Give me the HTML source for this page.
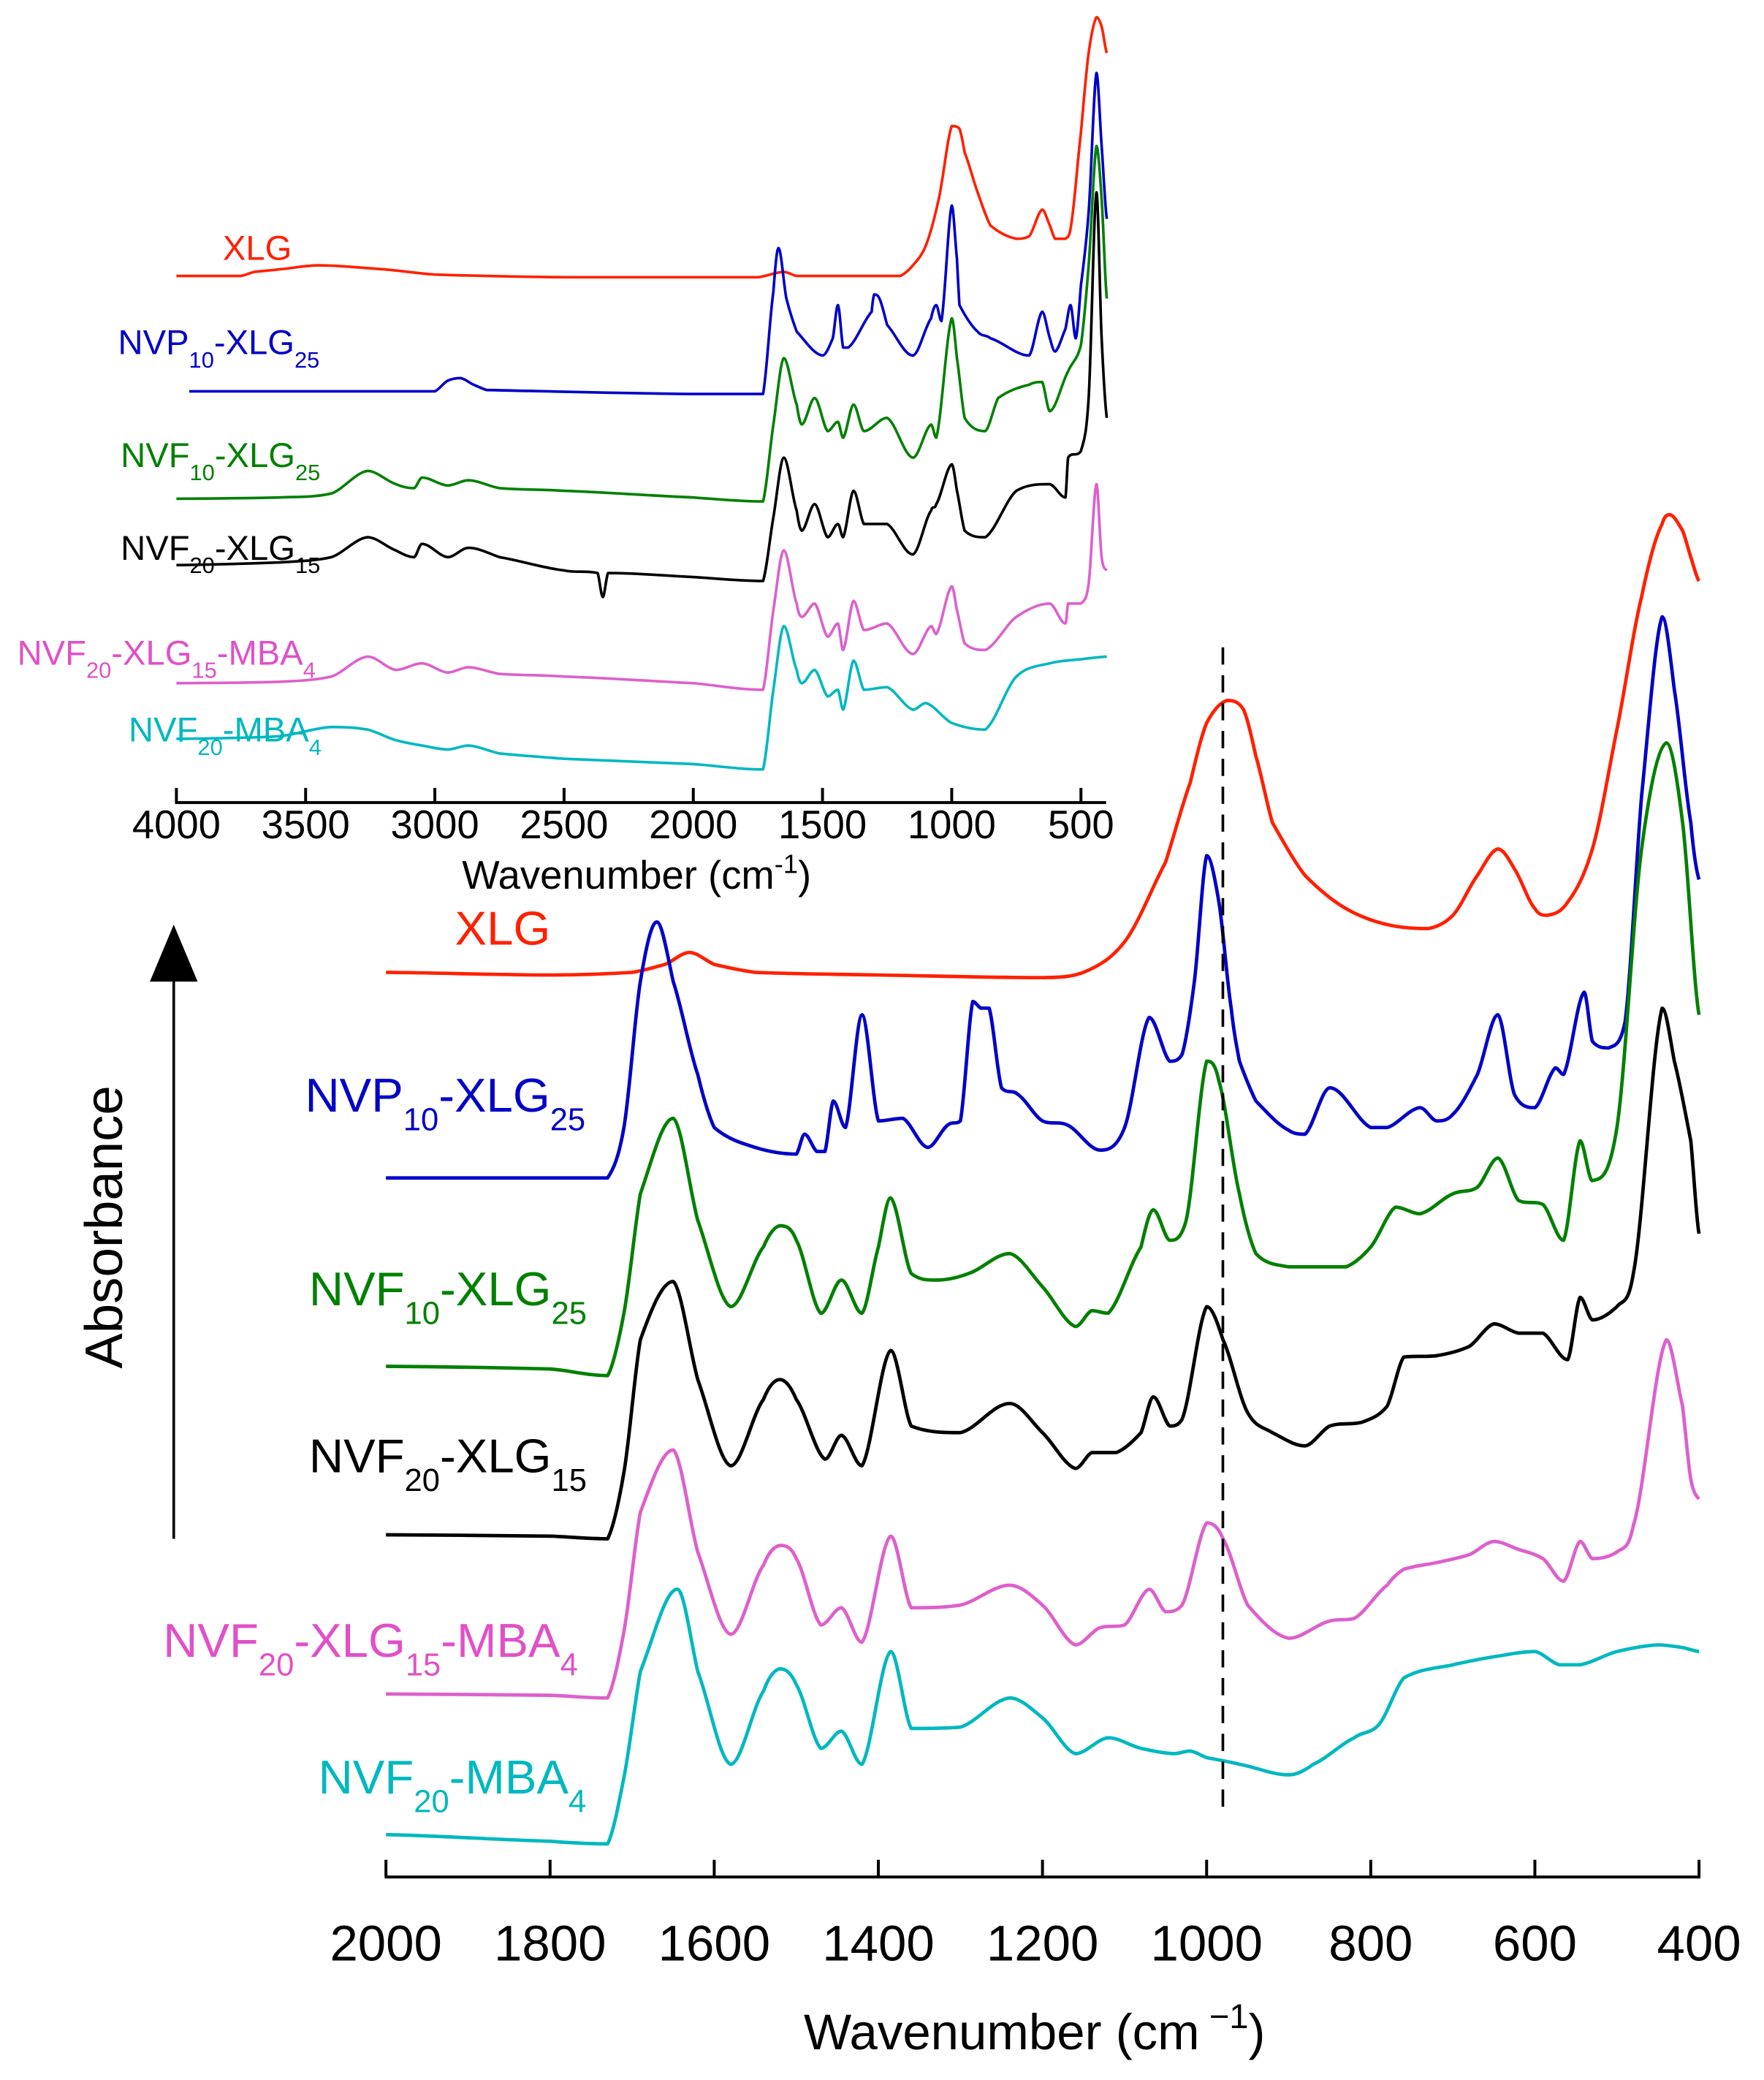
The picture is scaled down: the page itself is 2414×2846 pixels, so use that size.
<!DOCTYPE html>
<html><head><meta charset="utf-8"><style>
html,body{margin:0;padding:0;background:#fff}
svg{display:block}
text{font-family:"Liberation Sans",sans-serif}
</style></head><body>
<svg id="chart" width="2414" height="2846" viewBox="0 0 1330 1568" preserveAspectRatio="none" xmlns="http://www.w3.org/2000/svg">
<g id="main-axis"></g>
<g id="inset-axis"></g>
<g id="main-series"></g>
<g id="inset-series"></g>
<line x1="922" y1="488" x2="922" y2="1370" stroke="#000" stroke-width="2" stroke-dasharray="13,8"/>
<line x1="131" y1="1160" x2="131" y2="738" stroke="#000" stroke-width="2"/>
<polygon points="113,740 149,740 131,697" fill="#000"/>
<text x="0" y="0" transform="translate(92,925) rotate(-90)" text-anchor="middle" font-size="40">Absorbance</text>
<text x="780" y="1545" text-anchor="middle" font-size="38">Wavenumber (cm<tspan dy="-16" font-size="26"> −1</tspan><tspan dy="16">)</tspan></text>
<text x="480" y="670" text-anchor="middle" font-size="30">Wavenumber (cm<tspan dy="-12" font-size="20">-1</tspan><tspan dy="12">)</tspan></text>
<text x="343" y="712" font-size="36" fill="#ff2000">XLG</text>
<text x="230" y="838" font-size="36" fill="#0000c8">NVP<tspan dy="14" font-size="24">10</tspan><tspan dy="-14">-XLG</tspan><tspan dy="14" font-size="24">25</tspan></text>
<text x="233" y="984" font-size="36" fill="#008000">NVF<tspan dy="14" font-size="24">10</tspan><tspan dy="-14">-XLG</tspan><tspan dy="14" font-size="24">25</tspan></text>
<text x="233" y="1110" font-size="36" fill="#000">NVF<tspan dy="14" font-size="24">20</tspan><tspan dy="-14">-XLG</tspan><tspan dy="14" font-size="24">15</tspan></text>
<text x="123" y="1249" font-size="36" fill="#e050c8">NVF<tspan dy="14" font-size="24">20</tspan><tspan dy="-14">-XLG</tspan><tspan dy="14" font-size="24">15</tspan><tspan dy="-14">-MBA</tspan><tspan dy="14" font-size="24">4</tspan></text>
<text x="240" y="1352" font-size="36" fill="#00b8c0">NVF<tspan dy="14" font-size="24">20</tspan><tspan dy="-14">-MBA</tspan><tspan dy="14" font-size="24">4</tspan></text>
<text x="168" y="196" font-size="26" fill="#ff2000">XLG</text>
<text x="89" y="267" font-size="26" fill="#0000c8">NVP<tspan dy="10" font-size="17">10</tspan><tspan dy="-10">-XLG</tspan><tspan dy="10" font-size="17">25</tspan></text>
<text x="91" y="352" font-size="26" fill="#008000">NVF<tspan dy="10" font-size="17">10</tspan><tspan dy="-10">-XLG</tspan><tspan dy="10" font-size="17">25</tspan></text>
<text x="91" y="422" font-size="26" fill="#000">NVF<tspan dy="10" font-size="17">20</tspan><tspan dy="-10">-XLG</tspan><tspan dy="10" font-size="17">15</tspan></text>
<text x="13" y="501" font-size="26" fill="#e050c8">NVF<tspan dy="10" font-size="17">20</tspan><tspan dy="-10">-XLG</tspan><tspan dy="10" font-size="17">15</tspan><tspan dy="-10">-MBA</tspan><tspan dy="10" font-size="17">4</tspan></text>
<text x="97" y="559" font-size="26" fill="#00b8c0">NVF<tspan dy="10" font-size="17">20</tspan><tspan dy="-10">-MBA</tspan><tspan dy="10" font-size="17">4</tspan></text>
</svg>
<script>
const mainTicks = [2000,1800,1600,1400,1200,1000,800,600,400];
const insetTicks = [4000,3500,3000,2500,2000,1500,1000,500];

const mXlgW = [2000,1800,1700,1660,1630,1600,1550,1400,1200,1150,1100,1050,1020,1000,975,955,940,920,880,830,780,730,700,670,645,625,600,585,560,530,500,470,445,435,420,410,400];
const mXlgV = [767,765,767,773,782,773,767,765,763,767,790,850,910,955,972,965,930,880,840,815,803,800,810,840,860,845,815,810,820,860,950,1050,1105,1112,1100,1080,1062];
const mNvpW = [2000,1730,1710,1690,1670,1650,1620,1600,1550,1500,1490,1475,1465,1455,1440,1420,1400,1370,1340,1315,1300,1285,1275,1265,1250,1230,1200,1170,1130,1100,1070,1045,1030,1015,1000,985,970,960,940,900,880,850,800,780,740,720,700,670,645,625,600,575,565,540,530,510,490,470,445,430,410,400];
const mNvpV = [612,612,650,760,805,760,690,650,635,630,645,632,632,670,650,735,655,657,635,652,655,745,740,740,680,675,655,652,633,650,733,700,705,760,855,820,740,700,670,648,645,680,650,650,665,655,660,690,735,675,665,695,690,752,715,710,730,900,1035,980,880,837];
const mNvf10W = [2000,1800,1730,1710,1690,1650,1620,1580,1540,1520,1500,1470,1445,1420,1400,1385,1360,1330,1290,1240,1200,1160,1140,1120,1080,1065,1045,1025,1000,985,960,940,900,850,830,800,770,740,700,670,645,620,590,565,545,530,500,470,440,420,400];
const mNvf10V = [470,468,463,510,600,657,580,515,560,576,565,510,535,510,560,597,540,535,540,555,530,500,512,510,560,588,565,580,700,685,600,555,545,545,545,560,590,585,600,605,627,595,592,565,640,610,650,860,940,880,735];
const mNvf20W = [2000,1800,1730,1710,1690,1650,1620,1580,1540,1520,1500,1465,1445,1420,1385,1360,1300,1240,1200,1160,1140,1110,1080,1065,1045,1030,1000,980,950,920,880,850,810,780,760,720,680,650,620,590,560,545,530,500,480,445,430,410,400];
const mNvf20V = [343,342,340,390,490,534,460,395,445,460,445,400,418,395,482,425,420,442,420,393,405,405,420,447,425,430,515,490,435,420,410,425,428,440,477,478,485,502,495,495,475,522,505,515,540,740,700,640,570];
const mPinkW = [2000,1800,1730,1710,1690,1650,1620,1580,1540,1520,1500,1470,1445,1420,1385,1360,1300,1240,1200,1160,1130,1100,1070,1050,1030,1000,980,950,900,850,820,780,760,720,680,650,620,590,565,545,530,500,480,440,420,410,400];
const mPinkV = [223,222,220,270,360,407,330,268,320,335,325,275,288,262,342,288,290,305,290,260,273,275,302,285,290,352,340,290,265,278,280,305,317,322,328,338,332,325,308,338,325,330,350,490,440,385,370];
const mCyanW = [2000,1800,1730,1710,1690,1645,1620,1580,1540,1520,1500,1470,1445,1420,1385,1360,1300,1240,1200,1160,1120,1080,1040,1020,1000,960,900,870,820,790,760,700,640,600,570,545,500,450,420,400];
const mCyanV = [117,112,110,160,240,302,240,170,225,242,230,182,195,170,255,197,198,220,205,178,190,182,178,180,175,170,162,170,190,200,235,245,252,255,245,245,255,260,258,255];

const iXlgW = [4000,3750,3700,3600,3450,3200,3000,2500,2000,1750,1650,1600,1200,1150,1100,1050,1000,970,950,900,850,750,700,650,620,600,560,540,500,470,440,420,400];
const iXlgV = [442,442,445,447,450,447,443,441,441,441,445,442,442,450,465,500,555,553,535,505,480,470,472,492,480,470,470,478,550,610,637,630,610];
const iNvpW = [3950,3000,2950,2900,2850,2800,2000,1730,1690,1670,1640,1600,1500,1460,1440,1420,1400,1310,1300,1280,1250,1150,1080,1060,1040,1000,980,970,900,850,700,650,620,600,560,540,520,500,470,440,420,400];
const iNvpV = [355,355,363,365,360,356,353,353,430,463,425,400,382,395,420,388,388,415,428,425,405,382,410,420,408,495,455,420,400,395,382,415,395,385,402,420,395,435,490,595,540,485];
const iNvf10W = [4000,3600,3400,3260,3150,3080,3050,2950,2870,2750,2500,2000,1730,1690,1650,1600,1580,1530,1480,1440,1420,1380,1340,1250,1150,1080,1060,1000,980,950,870,820,700,650,620,550,500,470,440,420,400];
const iNvf10V = [274,275,278,295,285,282,290,284,288,282,280,275,272,330,380,345,330,350,325,332,320,345,325,335,305,330,320,410,380,335,325,350,360,362,340,370,390,450,540,500,425];
const iNvf20W = [4000,3600,3400,3260,3150,3080,3050,2950,2870,2750,2500,2370,2350,2330,2000,1730,1690,1650,1600,1580,1530,1480,1440,1420,1380,1340,1250,1150,1080,1060,1000,980,950,870,750,620,560,550,500,470,440,420,400];
const iNvf20V = [224,226,230,245,235,230,240,230,237,230,220,218,200,218,215,212,260,305,265,250,270,245,255,245,280,255,255,232,265,270,300,280,250,245,280,285,275,305,310,350,505,395,335];
const iPinkW = [4000,3600,3400,3260,3150,3050,2950,2870,2750,2500,2000,1730,1690,1650,1600,1580,1530,1480,1440,1420,1380,1340,1250,1150,1080,1060,1000,980,950,870,750,620,560,550,500,470,440,420,400];
const iPinkV = [135,136,140,155,145,150,143,147,142,140,135,130,190,235,195,185,195,170,180,160,197,175,180,157,178,172,208,190,165,160,185,195,180,195,195,210,285,230,220];
const iCyanW = [4000,3600,3400,3260,3150,3050,2950,2870,2750,2500,2000,1730,1690,1650,1600,1580,1530,1480,1440,1420,1380,1340,1250,1150,1100,1000,870,750,620,500,400];
const iCyanV = [93,95,102,100,92,88,85,88,82,78,74,70,130,178,145,135,145,125,130,115,152,130,132,115,120,105,100,140,150,153,155];

const NS = 'http://www.w3.org/2000/svg';
function mx(w){ return 291 + (2000 - w) * (990 / 1600); }
function my(v){ return 1500 - v; }
function ix(w){ return 133 + (4000 - w) * (682 / 3500); }
function iy(v){ return 650 - v; }
function clamp(v, a, b){ const lo = Math.min(a, b), hi = Math.max(a, b); return Math.max(lo, Math.min(hi, v)); }

function drawLine(g, ws, vs, xf, yf, color, name, sw){
  const n = Math.min(ws.length, vs.length);
  const P = [];
  for (let i = 0; i < n; i++) P.push([xf(ws[i]), yf(vs[i])]);
  let d = 'M' + P[0][0].toFixed(1) + ',' + P[0][1].toFixed(1);
  const t = 0.16;
  for (let i = 0; i < n - 1; i++){
    const p0 = P[Math.max(i - 1, 0)], p1 = P[i], p2 = P[i + 1], p3 = P[Math.min(i + 2, n - 1)];
    const dx = p2[0] - p1[0];
    let c1x = p1[0] + dx / 3, c2x = p2[0] - dx / 3;
    let c1y = clamp(p1[1] + (p2[1] - p0[1]) * t, p1[1], p2[1]);
    let c2y = clamp(p2[1] - (p3[1] - p1[1]) * t, p1[1], p2[1]);
    d += 'C' + c1x.toFixed(1) + ',' + c1y.toFixed(1) + ' ' + c2x.toFixed(1) + ',' + c2y.toFixed(1) + ' ' + p2[0].toFixed(1) + ',' + p2[1].toFixed(1);
  }
  const p = document.createElementNS(NS, 'path');
  p.setAttribute('d', d);
  p.setAttribute('fill', 'none');
  p.setAttribute('stroke', color);
  p.setAttribute('stroke-width', sw);
  p.setAttribute('stroke-linejoin', 'round');
  
  
  g.appendChild(p);
}

const ms = document.getElementById('main-series');
drawLine(ms, mXlgW, mXlgV, mx, my, '#ff2000', 'main-xlg-line', 2.6);
drawLine(ms, mNvpW, mNvpV, mx, my, '#0000c8', 'main-nvp10-xlg25-line', 2.6);
drawLine(ms, mNvf10W, mNvf10V, mx, my, '#008000', 'main-nvf10-xlg25-line', 2.6);
drawLine(ms, mNvf20W, mNvf20V, mx, my, '#000000', 'main-nvf20-xlg15-line', 2.6);
drawLine(ms, mPinkW, mPinkV, mx, my, '#dd60cc', 'main-nvf20-xlg15-mba4-line', 2.6);
drawLine(ms, mCyanW, mCyanV, mx, my, '#00b8c0', 'main-nvf20-mba4-line', 2.6);

const is = document.getElementById('inset-series');
drawLine(is, iXlgW, iXlgV, ix, iy, '#ff2000', 'inset-xlg-line', 2);
drawLine(is, iNvpW, iNvpV, ix, iy, '#0000c8', 'inset-nvp10-xlg25-line', 2);
drawLine(is, iNvf10W, iNvf10V, ix, iy, '#008000', 'inset-nvf10-xlg25-line', 2);
drawLine(is, iNvf20W, iNvf20V, ix, iy, '#000000', 'inset-nvf20-xlg15-line', 2);
drawLine(is, iPinkW, iPinkV, ix, iy, '#dd60cc', 'inset-nvf20-xlg15-mba4-line', 2);
drawLine(is, iCyanW, iCyanV, ix, iy, '#00b8c0', 'inset-nvf20-mba4-line', 2);

function axis(g, ticks, xf, y0, x0, x1, tickLen, fs, labY, prefix){
  const l = document.createElementNS(NS, 'line');
  l.setAttribute('x1', x0); l.setAttribute('x2', x1);
  l.setAttribute('y1', y0); l.setAttribute('y2', y0);
  l.setAttribute('stroke', '#000'); l.setAttribute('stroke-width', 2.2);
  
  
  g.appendChild(l);
  ticks.forEach(t => {
    const tk = document.createElementNS(NS, 'line');
    tk.setAttribute('x1', xf(t)); tk.setAttribute('x2', xf(t));
    tk.setAttribute('y1', y0); tk.setAttribute('y2', y0 - tickLen);
    tk.setAttribute('stroke', '#000'); tk.setAttribute('stroke-width', 2.2);
    
    
    g.appendChild(tk);
    const tx = document.createElementNS(NS, 'text');
    tx.setAttribute('x', xf(t)); tx.setAttribute('y', labY);
    tx.setAttribute('text-anchor', 'middle');
    tx.setAttribute('font-size', fs);
    tx.textContent = t;
    
    
    g.appendChild(tx);
  });
}
axis(document.getElementById('main-axis'), mainTicks, mx, 1415, 290, 1282, 13, 38, 1478, 'main-x');
axis(document.getElementById('inset-axis'), insetTicks, ix, 605, 132, 834, 11, 30, 632, 'inset-x');
</script>
</body></html>
